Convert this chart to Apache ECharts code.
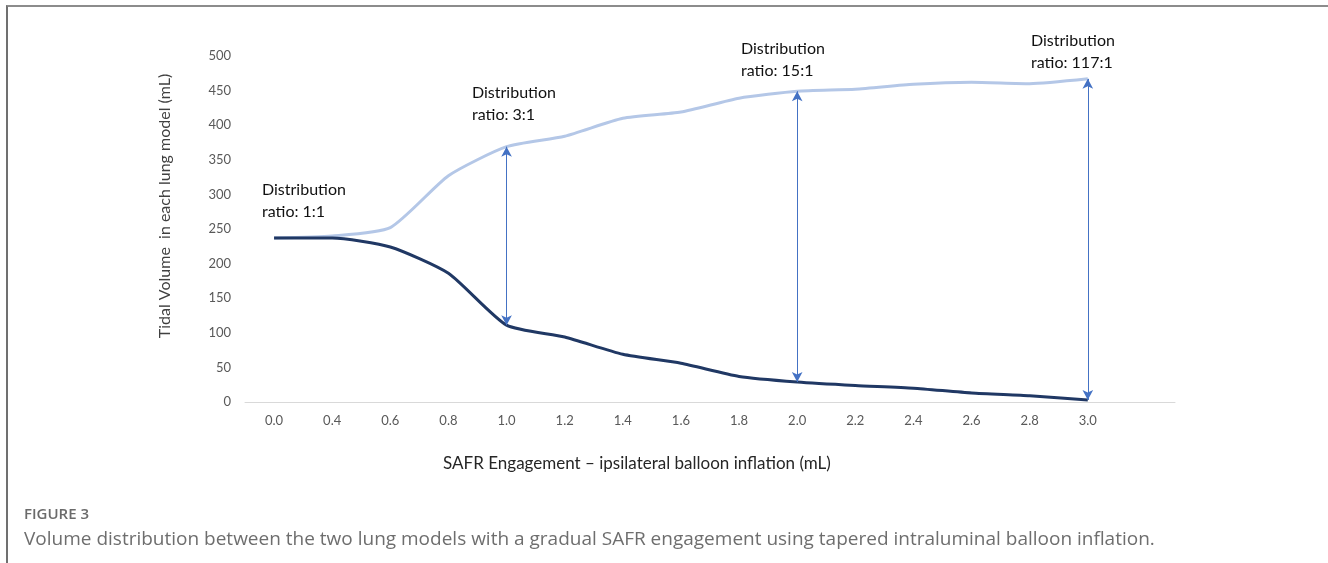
<!DOCTYPE html>
<html>
<head>
<meta charset="utf-8">
<script src="https://cdn.jsdelivr.net/npm/echarts@6/dist/echarts.min.js"></script>
<style>
html,body{margin:0;padding:0;background:#fff;}
#frame{position:absolute;left:6px;top:5px;width:1330px;height:570px;border-top:2px solid #8c8c8c;border-left:2px solid #707070;box-sizing:border-box;}
#chart{position:absolute;left:0;top:0;width:1328px;height:563px;}
</style>
</head>
<body>
<div id="frame"></div>
<div id="chart"></div>
<script>
const categories = ['0.0','0.4','0.6','0.8','1.0','1.2','1.4','1.6','1.8','2.0','2.2','2.4','2.6','2.8','3.0',''];
const upperLung = [237, 240, 252, 327, 369, 384, 410, 419, 439, 449, 452, 459, 462, 460, 467, null];
const lowerLung = [237, 237, 224, 186, 111, 94, 69, 56, 37, 29, 24, 20, 13, 9, 3, null];
const yTicks = {min: 0, max: 500, interval: 50};
const arrowAt = ['1.0', '2.0', '3.0'];
const ratioLabels = ['Distribution\nratio: 1:1', 'Distribution\nratio: 3:1', 'Distribution\nratio: 15:1', 'Distribution\nratio: 117:1'];
const yTitle = 'Tidal Volume  in each lung model (mL)';
const xTitle = 'SAFR Engagement – ipsilateral balloon inflation (mL)';
const figLabel = 'FIGURE 3';
const caption = 'Volume distribution between the two lung models with a gradual SAFR engagement using tapered intraluminal balloon inflation.';

const chart = echarts.init(document.getElementById('chart'));
const FONT = 'Lato, "Open Sans", sans-serif';

const arrowLines = arrowAt.map(c => {
  const i = categories.indexOf(c);
  return [{coord: [c, lowerLung[i]]}, {coord: [c, upperLung[i]]}];
});

const labelPos = [[262, 179], [472, 82], [741, 38], [1031, 30]];

chart.setOption({
  animation: false,
  grid: {left: 245, right: 153, top: 56, bottom: 161, containLabel: false},
  xAxis: {
    type: 'category',
    data: categories,
    boundaryGap: true,
    axisLine: {lineStyle: {color: '#d9d9d9', width: 1}},
    axisTick: {show: false},
    axisLabel: {interval: 0, color: '#595959', fontSize: 13, fontFamily: FONT, margin: 12}
  },
  yAxis: {
    type: 'value',
    min: yTicks.min, max: yTicks.max, interval: yTicks.interval,
    axisLine: {show: false},
    axisTick: {show: false},
    splitLine: {show: false},
    axisLabel: {color: '#595959', fontSize: 13, fontFamily: FONT, margin: 14}
  },
  series: [
    {
      type: 'line', name: 'upper', data: upperLung, smooth: 0.2,
      showSymbol: false, lineStyle: {color: '#b4c7e7', width: 3}, z: 2,
      markLine: {
        silent: true,
        symbol: ['arrow', 'arrow'],
        symbolSize: [8, 10],
        label: {show: false},
        lineStyle: {color: '#4472c4', width: 1, type: 'solid'},
        data: arrowLines
      }
    },
    {
      type: 'line', name: 'lower', data: lowerLung, smooth: 0.2,
      showSymbol: false, lineStyle: {color: '#203864', width: 3}, z: 3
    }
  ],
  graphic: [
    ...ratioLabels.map((t, k) => ({
      type: 'text', left: labelPos[k][0], top: labelPos[k][1],
      style: {text: t, fill: '#111', font: '16px ' + FONT, lineHeight: 22}
    })),
    {
      type: 'text', x: 165, y: 206, rotation: Math.PI / 2,
      style: {text: yTitle, fill: '#404040', font: '16px ' + FONT, align: 'center', verticalAlign: 'middle'}
    },
    {
      type: 'text', x: 637, y: 464,
      style: {text: xTitle, fill: '#262626', font: '17px ' + FONT, align: 'center', verticalAlign: 'middle'}
    },
    {
      type: 'text', left: 24, top: 507,
      style: {text: figLabel, fill: '#6b6b6b', font: '600 15px "Open Sans", sans-serif'}
    },
    {
      type: 'text', left: 24, top: 530,
      style: {text: caption, fill: '#6e6e6e', font: '19px "Open Sans", sans-serif'}
    }
  ]
});
</script>
</body>
</html>
